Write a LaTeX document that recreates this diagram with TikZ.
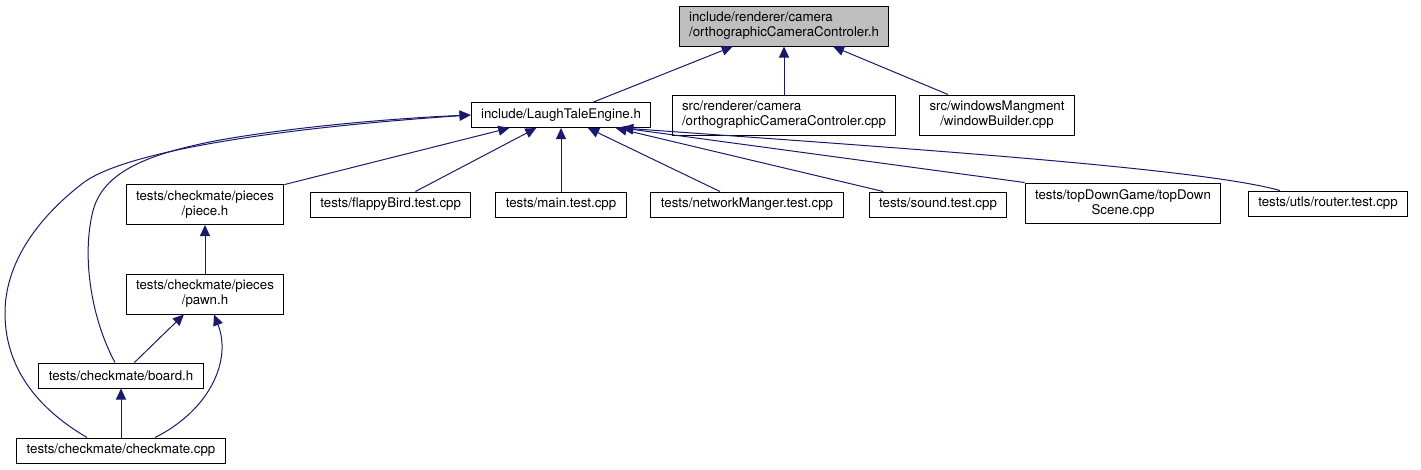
\documentclass[tikz,border=0pt]{standalone}
\usepackage{fontspec}
\setmainfont{TeX Gyre Heros}
\usetikzlibrary{arrows.meta}
\definecolor{edgeblue}{RGB}{25,25,112}
\definecolor{focusgray}{RGB}{191,191,191}
\tikzset{
  base/.style={draw=black, line width=1pt, align=center, inner xsep=10pt,
               inner ysep=2pt, font=\fontsize{13.3}{15}\selectfont, minimum height=25pt},
  twoline/.style = {base, minimum height=40pt},
  focus/.style   = {twoline, fill=focusgray, align=left},
  arr/.style     = {-{Triangle[length=11pt, width=10pt]}, line width=1pt, color=edgeblue},
}

\begin{document}
\begin{tikzpicture}[x=1pt, y=-1pt]
  \useasboundingbox (0,0) rectangle (1421,469);

  % Files
  \node[focus]   (camh)      at (784,26)    {include/renderer/camera\\/orthographicCameraControler.h};
  \node[base]    (engine)    at (561,115)   {include/LaughTaleEngine.h};
  \node[twoline, align=left] (srccam) at (784,115) {src/renderer/camera\\/orthographicCameraControler.cpp};
  \node[twoline] (winbuild)  at (997,115)   {src/windowsMangment\\/windowBuilder.cpp};
  \node[twoline] (piece)     at (205,204.5) {tests/checkmate/pieces\\/piece.h};
  \node[base]    (flappy)    at (390.7,204.5) {tests/flappyBird.test.cpp};
  \node[base]    (maintest)  at (561,204.5) {tests/main.test.cpp};
  \node[base]    (network)   at (747,204.5) {tests/networkManger.test.cpp};
  \node[base]    (sound)     at (938,204.5) {tests/sound.test.cpp};
  \node[twoline] (topdown)   at (1123,203)  {tests/topDownGame/topDown\\Scene.cpp};
  \node[base]    (router)    at (1328,203.5) {tests/utls/router.test.cpp};
  \node[twoline] (pawn)      at (205,294)   {tests/checkmate/pieces\\/pawn.h};
  \node[base]    (board)     at (121,375.5) {tests/checkmate/board.h};
  \node[base]    (checkmate) at (121,450.5) {tests/checkmate/checkmate.cpp};

  % Includes
  \draw[arr] (engine) -- (camh);
  \draw[arr] (srccam) -- (camh);
  \draw[arr] (winbuild) -- (camh);
  \draw[arr] (piece) -- (engine);
  \draw[arr] (flappy) -- (engine);
  \draw[arr] (maintest) -- (engine);
  \draw[arr] (network) -- (engine);
  \draw[arr] (sound) -- (engine);
  \draw[arr] (topdown.north west) -- (engine.-12);
  \draw[arr] (router.north -| 1280,0) .. controls (1200,168) and (900,148) .. (engine.-12);
  \draw[arr] (pawn) -- (piece);
  \draw[arr] (board) -- (pawn);
  \draw[arr] (checkmate) -- (board);
  \draw[arr] (checkmate.north -| 155,0) .. controls (210,410) and (232,360) .. (pawn.south -| 214,0);
  \draw[arr] (board.north -| 115,0) .. controls (92,320) and (82,260) .. (92,215)
             .. controls (100,175) and (140,155) .. (220,140)
             .. controls (300,126) and (400,118) .. (engine.west);
  \draw[arr] (checkmate.north -| 87,0) .. controls (40,410) and (5,370) .. (5,313)
             .. controls (5,265) and (35,220) .. (83,183)
             .. controls (120,155) and (250,130) .. (engine.west);
\end{tikzpicture}
\end{document}
